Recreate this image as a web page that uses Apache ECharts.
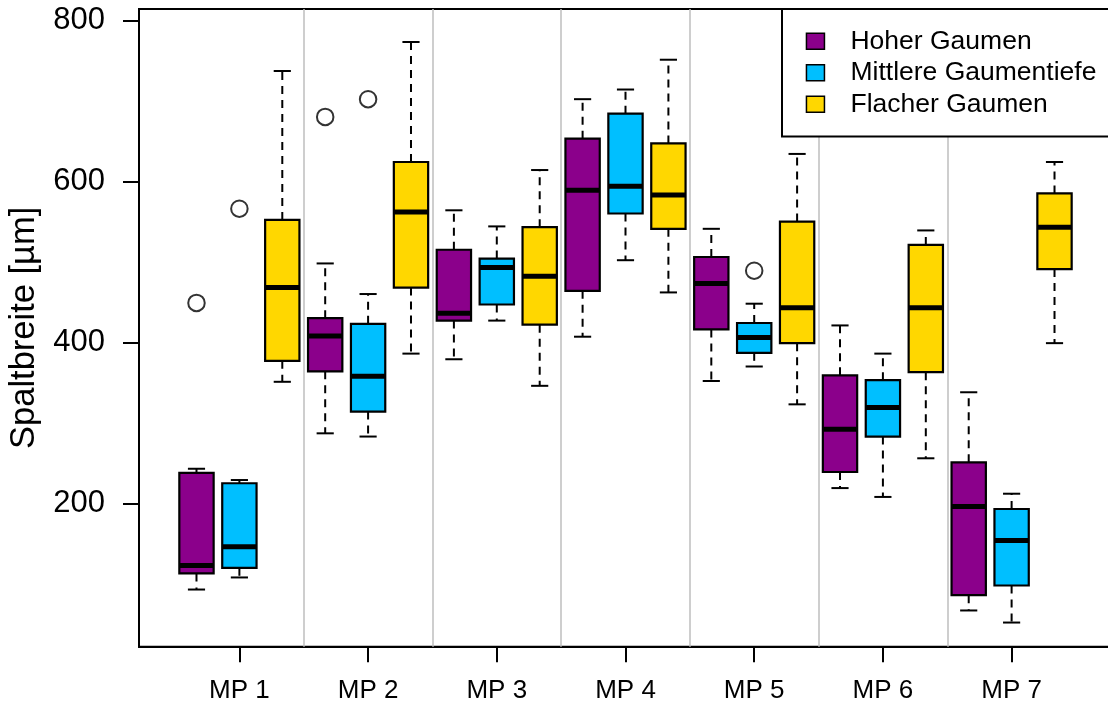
<!DOCTYPE html>
<html><head><meta charset="utf-8">
<script src="https://cdn.jsdelivr.net/npm/echarts@6/dist/echarts.min.js"></script>
<style>html,body{margin:0;padding:0;background:#fff}#c{width:1108px;height:708px}</style>
</head><body><div id="c"></div>
<script>
// ---- data ----
const categories = ['MP 1', 'MP 2', 'MP 3', 'MP 4', 'MP 5', 'MP 6', 'MP 7'];
const seriesNames = ['Hoher Gaumen', 'Mittlere Gaumentiefe', 'Flacher Gaumen'];
// each entry: [lower whisker, Q1, median, Q3, upper whisker]
const hoherGaumen = [
  [93, 113, 123, 238, 243],
  [287, 364, 408, 430, 498],
  [379, 427, 436, 515, 564],
  [407, 464, 589, 653, 702],
  [352, 416, 473, 506, 541],
  [219, 239, 292, 359, 421],
  [67, 86, 196, 251, 338]
];
const mittlereGaumentiefe = [
  [108, 120, 146, 225, 229],
  [283, 314, 358, 423, 460],
  [427, 447, 493, 504, 544],
  [502, 560, 594, 684, 714],
  [370, 387, 406, 424, 448],
  [208, 283, 319, 353, 386],
  [52, 98, 154, 193, 212]
];
const flacherGaumen = [
  [351, 377, 468, 552, 737],
  [386, 468, 562, 624, 773],
  [346, 422, 482, 543, 614],
  [462, 541, 583, 647, 751],
  [323, 399, 443, 550, 634],
  [256, 363, 443, 521, 539],
  [399, 491, 543, 585, 624]
];
// outliers: [category index, value]
const hoherOutliers = [[0, 449], [1, 680]];
const mittlereOutliers = [[0, 566], [1, 702], [4, 489]];
const flacherOutliers = [];
const yTicks = [200, 400, 600, 800];
const colors = ['#8B008B', '#00BFFF', '#FFD700'];

// ---- build ----
const FONT = 'Liberation Sans, Arial, Helvetica, sans-serif';
const allStats = [hoherGaumen, mittlereGaumentiefe, flacherGaumen];
const allOutliers = [hoherOutliers, mittlereOutliers, flacherOutliers];
const nG = seriesNames.length;
const pos = (ci, si) => ci * nG + si + 1;            // R boxplot positions 1..21
const tickPos = categories.map((c, ci) => ci * nG + (nG + 1) / 2);
const sepPos = categories.slice(1).map((c, i) => (i + 1) * nG + 0.5);

function renderBox(params, api) {
  const x = api.value(0);
  const pLo = api.coord([x, api.value(1)]);
  const pQ1 = api.coord([x, api.value(2)]);
  const pMd = api.coord([x, api.value(3)]);
  const pQ3 = api.coord([x, api.value(4)]);
  const pHi = api.coord([x, api.value(5)]);
  const w = api.size([0.8, 0])[0];
  const half = w / 2, cap = w / 4;
  const cx = pMd[0];
  const fill = api.visual('color');
  const dash = { stroke: '#000', lineWidth: 2, lineDash: [8, 6] };
  const solid = { stroke: '#000', lineWidth: 2 };
  return {
    type: 'group',
    children: [
      { type: 'line', shape: { x1: cx, y1: pQ3[1], x2: cx, y2: pHi[1] }, style: dash },
      { type: 'line', shape: { x1: cx, y1: pQ1[1], x2: cx, y2: pLo[1] }, style: dash },
      { type: 'line', shape: { x1: cx - cap, y1: pHi[1], x2: cx + cap, y2: pHi[1] }, style: solid },
      { type: 'line', shape: { x1: cx - cap, y1: pLo[1], x2: cx + cap, y2: pLo[1] }, style: solid },
      { type: 'rect', shape: { x: cx - half, y: pQ3[1], width: w, height: pQ1[1] - pQ3[1] },
        style: { fill: fill, stroke: '#000', lineWidth: 2.2 } },
      { type: 'line', shape: { x1: cx - half, y1: pMd[1], x2: cx + half, y2: pMd[1] },
        style: { stroke: '#000', lineWidth: 5 } }
    ]
  };
}

const series = seriesNames.map((name, si) => ({
  name: name,
  type: 'custom',
  renderItem: renderBox,
  encode: { x: 0, y: [1, 2, 3, 4, 5] },
  itemStyle: { color: colors[si], borderColor: '#000', borderWidth: 1.5 },
  data: allStats[si].map((s, ci) => [pos(ci, si)].concat(s)),
  animation: false,
  silent: true,
  z: 3
}));

const outlierData = [];
allOutliers.forEach((arr, si) => arr.forEach(o => outlierData.push([pos(o[0], si), o[1]])));

series.push({
  name: 'outliers',
  type: 'scatter',
  symbol: 'circle',
  symbolSize: 16.5,
  itemStyle: { color: 'rgba(0,0,0,0)', borderColor: '#000', borderWidth: 2 },
  data: outlierData,
  silent: true,
  animation: false,
  z: 3,
  markLine: {
    silent: true,
    animation: false,
    symbol: ['none', 'none'],
    label: { show: false },
    lineStyle: { color: '#BEBEBE', width: 1.5, type: 'solid' },
    emphasis: { disabled: true },
    data: sepPos.map(v => ({ xAxis: v }))
  }
});

const chart = echarts.init(document.getElementById('c'), null, { renderer: 'canvas' });
chart.setOption({
  animation: false,
  backgroundColor: '#fff',
  grid: {
    left: 139, top: 9, width: 973, height: 637.7,
    show: true, borderColor: '#000', borderWidth: 2, backgroundColor: 'transparent',
    outerBoundsMode: 'none', containLabel: false
  },
  xAxis: {
    type: 'value', min: -0.34, max: 22.34,
    axisLine: { show: true, onZero: false, lineStyle: { color: '#000', width: 2 } },
    axisTick: { show: true, customValues: tickPos, length: 15.6, lineStyle: { color: '#000', width: 2 } },
    axisLabel: {
      customValues: tickPos,
      formatter: v => categories[Math.round((v - (nG + 1) / 2) / nG)],
      margin: 31, fontSize: 26, color: '#000', fontFamily: FONT
    },
    splitLine: { show: false }
  },
  yAxis: {
    type: 'value', min: 22, max: 814,
    axisLine: { show: true, onZero: false, lineStyle: { color: '#000', width: 2 } },
    axisTick: { show: true, customValues: yTicks, length: 16, lineStyle: { color: '#000', width: 2 } },
    axisLabel: { customValues: yTicks, margin: 34, fontSize: 31, color: '#000', fontFamily: FONT },
    splitLine: { show: false },
    name: 'Spaltbreite [µm]', nameLocation: 'middle', nameGap: 91,
    nameTextStyle: { fontSize: 34.5, color: '#000', fontFamily: FONT }
  },
  legend: {
    data: seriesNames,
    orient: 'vertical',
    left: 782, top: 9,
    padding: [18.75, 40, 18.75, 23.7],
    itemGap: 4.5, itemWidth: 18, itemHeight: 16,
    icon: 'rect',
    selectedMode: false,
    backgroundColor: '#fff',
    borderColor: '#000', borderWidth: 2, borderRadius: 0,
    itemStyle: { borderColor: '#000', borderWidth: 1.5 },
    textStyle: { fontSize: 26.5, lineHeight: 26.5, color: '#000', fontFamily: FONT, padding: [0, 0, 0, 21] },
    z: 10
  },
  tooltip: { show: false },
  series: series
});
</script>
</body></html>
